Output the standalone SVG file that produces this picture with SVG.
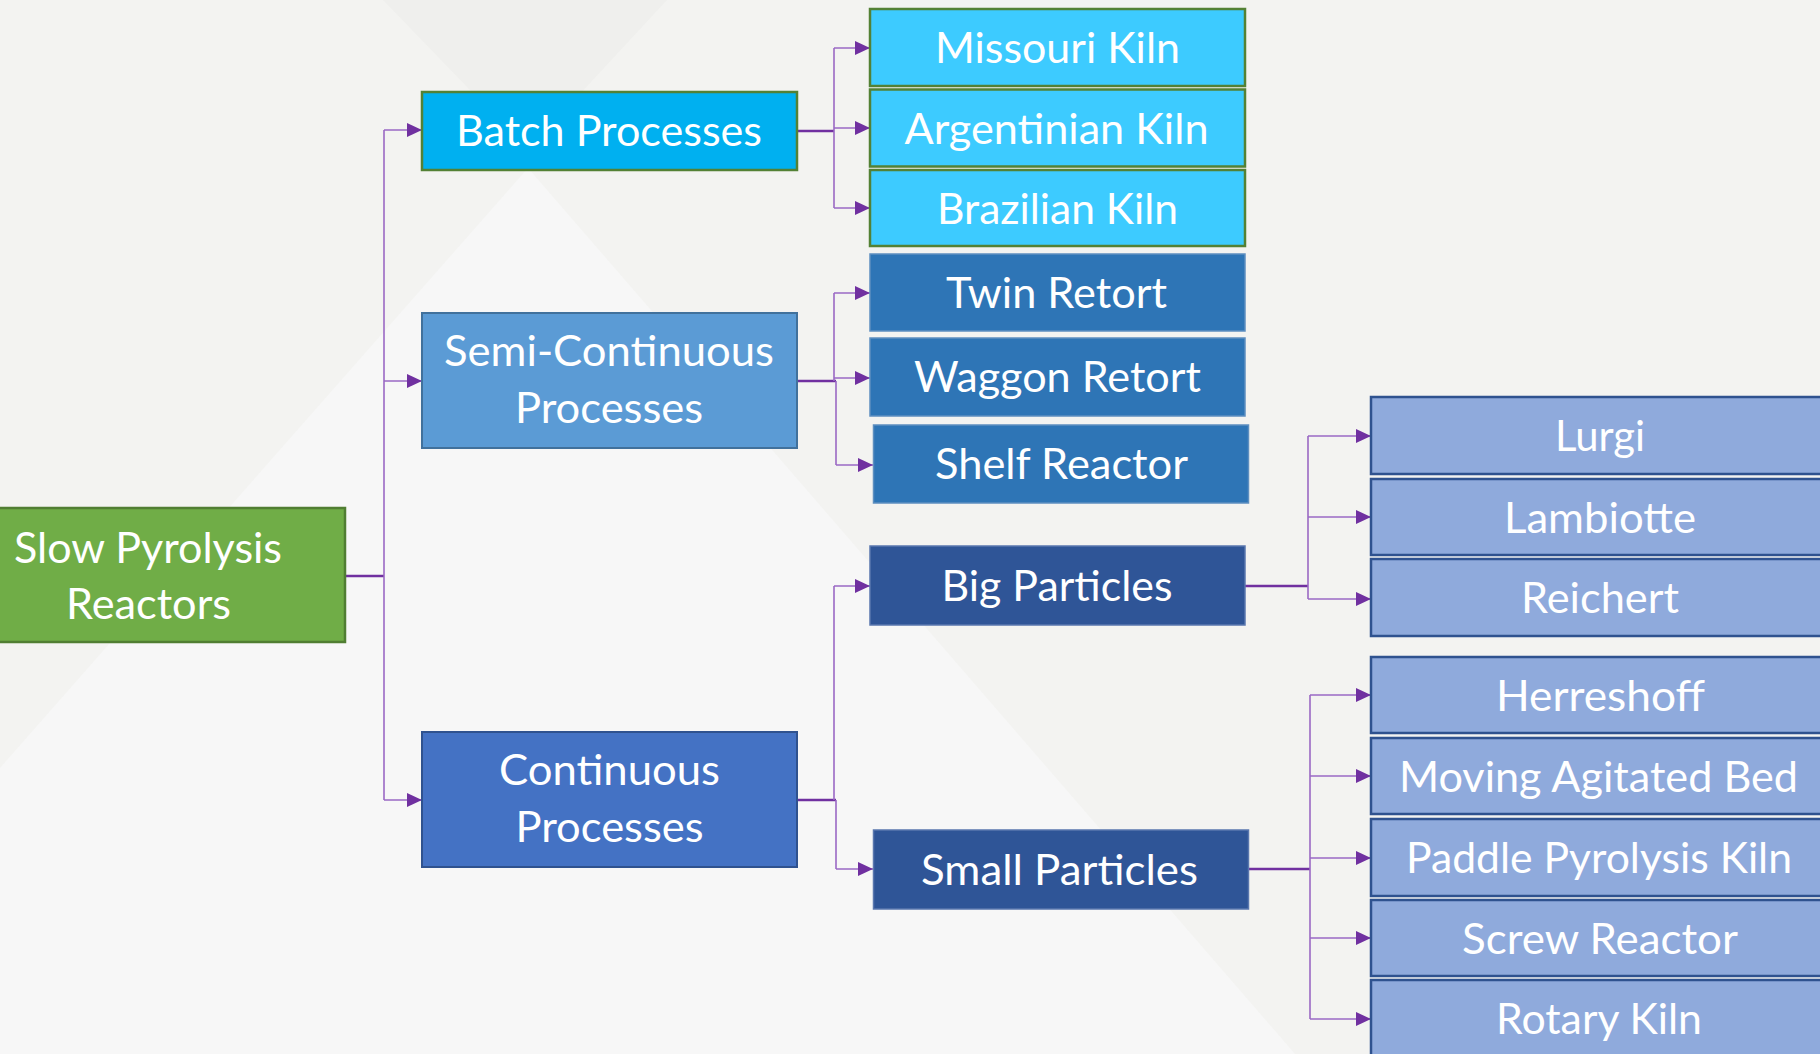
<svg xmlns="http://www.w3.org/2000/svg" width="1820" height="1054" viewBox="0 0 1820 1054">
<defs>
<marker id="arr" markerUnits="userSpaceOnUse" markerWidth="15" markerHeight="14" refX="15" refY="7" orient="auto">
<path d="M0,0 L15,7 L0,14 z" fill="#7030A0"/>
</marker>
<style>
text{font-family:Lato,"Open Sans","Liberation Sans",sans-serif;font-size:42px;fill:#FFFFFF;text-anchor:middle}
.root{fill:#70AD47;stroke:#507E32;stroke-width:2.5}
.batch{fill:#00B0F0;stroke:#538135;stroke-width:2.5}
.kiln{fill:#3DCBFF;stroke:#538135;stroke-width:2.5}
.semi{fill:#5B9BD5;stroke:#41719C;stroke-width:2}
.retort{fill:#2E75B6;stroke:#5E8FC0;stroke-width:1.5}
.cont{fill:#4472C4;stroke:#2F528F;stroke-width:2}
.part{fill:#2F5597;stroke:#5A77AE;stroke-width:1.5}
.leaf{fill:#8FAADC;stroke:#2F528F;stroke-width:2.5}
.stub{fill:none;stroke:#7030A0;stroke-width:2.5}
.br{fill:none;stroke:#9A68C4;stroke-width:1.6}
.ar{fill:none;stroke:#9A68C4;stroke-width:1.6;marker-end:url(#arr)}
</style>
</defs>
<rect x="0" y="0" width="1820" height="1054" fill="#F3F3F1"/>
<polygon points="383,0 667,0 528,150" fill="#EFEFED"/>
<polygon points="528,168 1295,1054 0,1054 0,768" fill="#F7F7F7"/>

<g id="connectors">
<path class="stub" d="M345,576 H384"/>
<path class="br" d="M384,130 V800"/>
<path class="ar" d="M384,130 H422"/>
<path class="ar" d="M384,381 H422"/>
<path class="ar" d="M384,800 H422"/>

<path class="stub" d="M797,131 H834"/>
<path class="br" d="M834,48 V208"/>
<path class="ar" d="M834,48 H870"/>
<path class="ar" d="M834,128 H870"/>
<path class="ar" d="M834,208 H870"/>

<path class="stub" d="M797,381 H836"/>
<path class="br" d="M834,293 V381"/>
<path class="br" d="M836,381 V465"/>
<path class="ar" d="M834,293 H870"/>
<path class="ar" d="M834,378 H870"/>
<path class="ar" d="M836,465 H873"/>

<path class="stub" d="M797,800 H836"/>
<path class="br" d="M834,586 V800"/>
<path class="br" d="M836,800 V869"/>
<path class="ar" d="M834,586 H870"/>
<path class="ar" d="M836,869 H873"/>

<path class="stub" d="M1245,586 H1308"/>
<path class="br" d="M1308,436 V599"/>
<path class="ar" d="M1308,436 H1371"/>
<path class="ar" d="M1308,517 H1371"/>
<path class="ar" d="M1308,599 H1371"/>

<path class="stub" d="M1249,869 H1310"/>
<path class="br" d="M1310,695 V1019"/>
<path class="ar" d="M1310,695 H1371"/>
<path class="ar" d="M1310,776 H1371"/>
<path class="ar" d="M1310,858 H1371"/>
<path class="ar" d="M1310,938 H1371"/>
<path class="ar" d="M1310,1019 H1371"/>
</g>

<g id="n-root"><rect class="root" x="-50" y="508" width="395" height="134"/>
<text x="148" y="563" textLength="268" lengthAdjust="spacingAndGlyphs">Slow Pyrolysis</text>
<text x="148.5" y="619" textLength="165" lengthAdjust="spacingAndGlyphs">Reactors</text></g>

<g id="n-batch"><rect class="batch" x="422" y="92" width="375" height="78"/>
<text x="609" y="146" textLength="306" lengthAdjust="spacingAndGlyphs">Batch Processes</text></g>

<g id="n-semi"><rect class="semi" x="422" y="313" width="375" height="135"/>
<text x="609" y="366" textLength="330" lengthAdjust="spacingAndGlyphs">Semi-Continuous</text>
<text x="609" y="423" textLength="188" lengthAdjust="spacingAndGlyphs">Processes</text></g>

<g id="n-cont"><rect class="cont" x="422" y="732" width="375" height="135"/>
<text x="609.5" y="785" textLength="221" lengthAdjust="spacingAndGlyphs">Continuous</text>
<text x="609.5" y="842" textLength="188" lengthAdjust="spacingAndGlyphs">Processes</text></g>

<g id="n-missouri"><rect class="kiln" x="870" y="9" width="375" height="77"/>
<text x="1057.5" y="63" textLength="245" lengthAdjust="spacingAndGlyphs">Missouri Kiln</text></g>
<g id="n-argentinian"><rect class="kiln" x="870" y="89.5" width="375" height="77"/>
<text x="1056.5" y="143.5" textLength="304" lengthAdjust="spacingAndGlyphs">Argentinian Kiln</text></g>
<g id="n-brazilian"><rect class="kiln" x="870" y="170" width="375" height="76"/>
<text x="1057.5" y="223.5" textLength="241" lengthAdjust="spacingAndGlyphs">Brazilian Kiln</text></g>

<g id="n-twin"><rect class="retort" x="870" y="254" width="375" height="77"/>
<text x="1056.5" y="308" textLength="221" lengthAdjust="spacingAndGlyphs">Twin Retort</text></g>
<g id="n-waggon"><rect class="retort" x="870" y="338" width="375" height="78"/>
<text x="1057.5" y="392" textLength="287" lengthAdjust="spacingAndGlyphs">Waggon Retort</text></g>
<g id="n-shelf"><rect class="retort" x="873.5" y="425" width="375" height="78"/>
<text x="1061.5" y="479" textLength="253" lengthAdjust="spacingAndGlyphs">Shelf Reactor</text></g>

<g id="n-big"><rect class="part" x="870" y="546" width="375" height="79"/>
<text x="1057" y="600.5" textLength="231" lengthAdjust="spacingAndGlyphs">Big Particles</text></g>
<g id="n-small"><rect class="part" x="873.5" y="830" width="375" height="79"/>
<text x="1059.5" y="884.5" textLength="277" lengthAdjust="spacingAndGlyphs">Small Particles</text></g>

<g id="n-lurgi"><rect class="leaf" x="1371" y="397" width="470" height="77"/>
<text x="1600" y="451" textLength="90" lengthAdjust="spacingAndGlyphs">Lurgi</text></g>
<g id="n-lambiotte"><rect class="leaf" x="1371" y="479" width="470" height="76"/>
<text x="1600" y="532.5" textLength="192" lengthAdjust="spacingAndGlyphs">Lambiotte</text></g>
<g id="n-reichert"><rect class="leaf" x="1371" y="559" width="470" height="77"/>
<text x="1600" y="613" textLength="158" lengthAdjust="spacingAndGlyphs">Reichert</text></g>

<g id="n-herreshoff"><rect class="leaf" x="1371" y="657" width="470" height="76"/>
<text x="1600.5" y="710.5" textLength="209" lengthAdjust="spacingAndGlyphs">Herreshoff</text></g>
<g id="n-moving"><rect class="leaf" x="1371" y="738" width="470" height="76"/>
<text x="1598.5" y="791.5" textLength="399" lengthAdjust="spacingAndGlyphs">Moving Agitated Bed</text></g>
<g id="n-paddle"><rect class="leaf" x="1371" y="819" width="470" height="77"/>
<text x="1599" y="873" textLength="386" lengthAdjust="spacingAndGlyphs">Paddle Pyrolysis Kiln</text></g>
<g id="n-screw"><rect class="leaf" x="1371" y="900" width="470" height="76"/>
<text x="1600" y="953.5" textLength="276" lengthAdjust="spacingAndGlyphs">Screw Reactor</text></g>
<g id="n-rotary"><rect class="leaf" x="1371" y="980" width="470" height="80"/>
<text x="1599" y="1034" textLength="206" lengthAdjust="spacingAndGlyphs">Rotary Kiln</text></g>
</svg>
